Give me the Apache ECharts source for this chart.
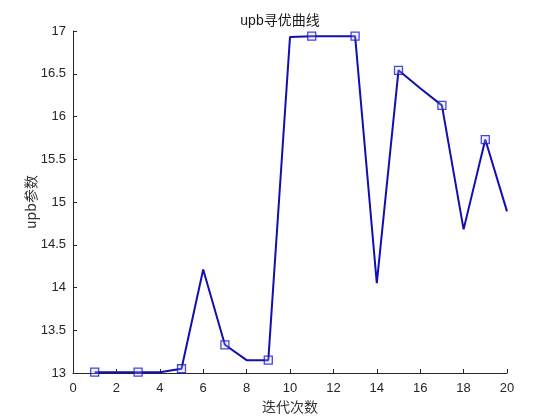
<!DOCTYPE html>
<html>
<head>
<meta charset="utf-8">
<script src="https://cdn.jsdelivr.net/npm/echarts@6/dist/echarts.min.js"></script>
<style>html,body{margin:0;padding:0;background:#fff}#c{width:560px;height:420px}</style>
</head>
<body>
<div id="c"></div>
<script>
var iterations = [1,2,3,4,5,6,7,8,9,10,11,12,13,14,15,16,17,18,19,20];
var upbValues = [13.01,13.01,13.01,13.01,13.05,14.21,13.33,13.15,13.15,16.93,16.94,16.94,16.94,14.05,16.54,16.33,16.13,14.68,15.73,14.89];
var xTicks = [0,2,4,6,8,10,12,14,16,18,20];
var yTicks = [13,13.5,14,14.5,15,15.5,16,16.5,17];
var titleText = 'upb寻优曲线';
var xName = '迭代次数';
var yName = 'upb参数';

var lineData = iterations.map(function(x,i){return [x, upbValues[i]];});
var markerData = lineData.filter(function(d,i){return i % 2 === 0;});

var chart = echarts.init(document.getElementById('c'), null, {renderer:'canvas'});
var axisColor = '#262626';
var font = 'Arial, "Liberation Sans", "Noto Sans CJK SC", sans-serif';
chart.setOption({
  backgroundColor:'#ffffff',
  animation:false,
  title:{text:titleText,left:'center',top:9,textStyle:{fontSize:14,fontWeight:'normal',color:'#1a1a1a',fontFamily:font}},
  grid:{left:73,right:53,top:31,bottom:47,containLabel:false},
  xAxis:{type:'value',min:0,max:20,interval:2,
    name:xName,nameLocation:'middle',nameGap:27,nameMoveOverlap:false,
    nameTextStyle:{fontSize:14,color:'#333',fontFamily:'"Noto Sans CJK SC", sans-serif'},
    axisLine:{show:true,lineStyle:{color:axisColor,width:1}},
    axisTick:{show:true,inside:true,length:4,lineStyle:{color:axisColor}},
    axisLabel:{fontSize:13,color:axisColor,margin:9,fontFamily:font},
    splitLine:{show:false}},
  yAxis:{type:'value',min:13,max:17,interval:0.5,
    name:yName,nameLocation:'middle',nameGap:35,nameRotate:90,nameMoveOverlap:false,
    nameTextStyle:{fontSize:14,color:'#333',fontFamily:'"Noto Sans CJK SC", sans-serif'},
    axisLine:{show:true,lineStyle:{color:axisColor,width:1}},
    axisTick:{show:true,inside:true,length:4,lineStyle:{color:axisColor}},
    axisLabel:{fontSize:13,color:axisColor,margin:7,fontFamily:font},
    splitLine:{show:false}},
  series:[
    {type:'line',data:lineData,symbol:'none',lineStyle:{color:'#1010b0',width:2},z:2},
    {type:'scatter',data:markerData,symbol:'rect',symbolSize:8,
      itemStyle:{color:'rgba(200,200,255,0.3)',borderColor:'#1a1ad0',borderWidth:1.3},z:3}
  ]
});
</script>
</body>
</html>
